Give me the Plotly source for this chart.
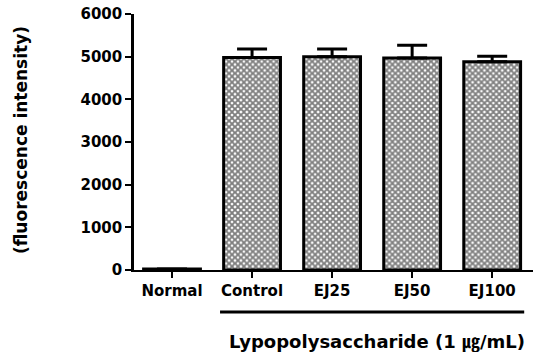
import plotly.graph_objects as go

categories = ["Normal", "Control", "EJ25", "EJ50", "EJ100"]
values = [25, 4980, 5000, 4970, 4880]
errors = [0, 200, 180, 300, 130]
yticks = [0, 1000, 2000, 3000, 4000, 5000, 6000]
y_title = "(fluorescence intensity)"
group_label = "Lypopolysaccharide (1 <span style=\"font-family:'Noto Sans CJK KR'\">㎍</span>/mL)"

W, H = 533, 352
L, R, T, B = 134, 0, 14, 82
pw, ph = W - L - R, H - T - B

fig = go.Figure()
fig.add_trace(go.Bar(
    x=list(range(len(categories))),
    y=values,
    width=0.71,
    marker=dict(
        color="white",
        line=dict(color="black", width=3),
        pattern=dict(shape="x", fgcolor="black", bgcolor="white", size=4.2, solidity=0.7),
    ),
    error_y=dict(type="data", array=errors, arrayminus=[0] * len(errors), symmetric=False,
                 color="black", thickness=3, width=15),
))

font_b = "DejaVu Sans, Noto Sans CJK KR"
fig.update_layout(
    width=W, height=H,
    margin=dict(l=L, r=R, t=T, b=B),
    plot_bgcolor="white", paper_bgcolor="white",
    showlegend=False,
    xaxis=dict(
        range=[-0.475, 4.51],
        tickmode="array", tickvals=list(range(len(categories))), ticktext=categories,
        showline=True, linecolor="black", linewidth=2,
        ticks="outside", ticklen=6, tickwidth=2, tickcolor="black",
        tickfont=dict(family=font_b, size=15, color="black", weight="bold"),
        showgrid=False, zeroline=False,
    ),
    yaxis=dict(
        range=[0, 6000],
        tickmode="array", tickvals=yticks, ticktext=[str(v) for v in yticks],
        showline=True, linecolor="black", linewidth=2.5,
        ticks="outside", ticklen=6, tickwidth=2, tickcolor="black",
        tickfont=dict(family=font_b, size=15, color="black", weight="bold"),
        showgrid=False, zeroline=False,
    ),
)

# group line and label
fig.add_shape(type="line", xref="x", yref="paper", x0=0.6, x1=4.4,
              y0=(270 - 312) / ph, y1=(270 - 312) / ph,
              line=dict(color="black", width=3))
fig.add_annotation(xref="paper", yref="paper", x=(377 - L) / pw, y=(270 - 340) / ph,
                   text=group_label, showarrow=False, xanchor="center", yanchor="middle",
                   font=dict(family=font_b, size=18, color="black", weight="bold"))
fig.add_annotation(xref="paper", yref="paper", x=(21 - L) / pw, y=(270 - 140) / ph,
                   text=y_title, textangle=-90, showarrow=False, xanchor="center", yanchor="middle",
                   font=dict(family=font_b, size=17, color="black", weight="bold"))

fig.write_html("out.html")
